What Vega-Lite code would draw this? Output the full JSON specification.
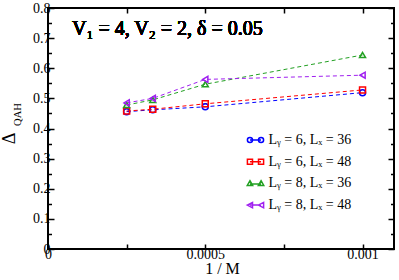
{
  "$schema": "https://vega.github.io/schema/vega-lite/v6.json",
  "width": 346,
  "height": 241,
  "autosize": {"type": "none"},
  "padding": {"left": 48, "top": 8, "right": 5, "bottom": 31},
  "background": "white",
  "config": {
    "view": {"stroke": "#000", "strokeWidth": 2},
    "font": "Liberation Serif",
    "axis": {"domain": false, "grid": false, "tickColor": "#000", "labelColor": "#000", "titleColor": "#000", "labelFont": "Liberation Serif", "titleFont": "Liberation Serif", "tickWidth": 1.5, "offset": 0, "labelFontSize": 14, "labelFontWeight": "normal"},
    "legend": {"orient": "none", "legendX": 200.5, "legendY": 125, "padding": 0, "symbolSize": 36, "symbolStrokeWidth": 1.5, "labelFont": "Liberation Serif", "labelFontSize": 14, "labelColor": "#000", "labelOffset": 6, "rowPadding": 7.7, "title": null}
  },
  "data": {"values": [
    {"s": "Lᵧ = 6, Lₓ = 36", "x": 0.00025, "y": 0.456},
    {"s": "Lᵧ = 6, Lₓ = 36", "x": 0.000333, "y": 0.462},
    {"s": "Lᵧ = 6, Lₓ = 36", "x": 0.0005, "y": 0.472},
    {"s": "Lᵧ = 6, Lₓ = 36", "x": 0.001, "y": 0.519},
    {"s": "Lᵧ = 6, Lₓ = 48", "x": 0.00025, "y": 0.458},
    {"s": "Lᵧ = 6, Lₓ = 48", "x": 0.000333, "y": 0.464},
    {"s": "Lᵧ = 6, Lₓ = 48", "x": 0.0005, "y": 0.482},
    {"s": "Lᵧ = 6, Lₓ = 48", "x": 0.001, "y": 0.528},
    {"s": "Lᵧ = 8, Lₓ = 36", "x": 0.00025, "y": 0.478},
    {"s": "Lᵧ = 8, Lₓ = 36", "x": 0.000333, "y": 0.495},
    {"s": "Lᵧ = 8, Lₓ = 36", "x": 0.0005, "y": 0.547},
    {"s": "Lᵧ = 8, Lₓ = 36", "x": 0.001, "y": 0.644},
    {"s": "Lᵧ = 8, Lₓ = 48", "x": 0.00025, "y": 0.485},
    {"s": "Lᵧ = 8, Lₓ = 48", "x": 0.000333, "y": 0.500},
    {"s": "Lᵧ = 8, Lₓ = 48", "x": 0.0005, "y": 0.563},
    {"s": "Lᵧ = 8, Lₓ = 48", "x": 0.001, "y": 0.577}
  ]},
  "layer": [
    {
      "mark": {"type": "line", "strokeDash": [4, 3], "strokeWidth": 1},
      "encoding": {
        "x": {"field": "x", "type": "quantitative", "scale": {"domain": [0, 0.0011], "nice": false, "zero": false},
          "axis": {"orient": "bottom", "values": [0, 0.00025, 0.0005, 0.00075, 0.001], "tickSize": -5, "labelPadding": 3,
            "labelColor": "#000", "labelFontSize": 14,
            "labelExpr": "datum.value == 0 ? '0' : (abs(datum.value - 0.0005) < 1e-9 ? '0.0005' : (abs(datum.value - 0.001) < 1e-9 ? '0.001' : ''))",
            "labelFlush": false, "labelOverlap": false,
            "title": "1 / M", "titleFontSize": 16, "titleFontWeight": "normal", "titleX": 174, "titleY": 24, "titleAlign": "center", "titleBaseline": "alphabetic", "titleAngle": 0}},
        "y": {"field": "y", "type": "quantitative", "scale": {"domain": [0, 0.8], "nice": false, "zero": false},
          "axis": {"orient": "left", "values": [0, 0.1, 0.2, 0.3, 0.4, 0.5, 0.6, 0.7, 0.8], "format": "~g", "tickSize": -6, "labelPadding": 4,
            "labelColor": "#000", "labelFontSize": 14,
            "labelFlush": false, "labelOverlap": false,
            "title": "Δ", "titleFontSize": 18, "titleFontWeight": "normal", "titleX": -34, "titleY": 130, "titleAngle": 270, "titleAlign": "center", "titleBaseline": "alphabetic"}},
        "color": {"field": "s", "type": "nominal", "legend": null,
          "scale": {"domain": ["Lᵧ = 6, Lₓ = 36", "Lᵧ = 6, Lₓ = 48", "Lᵧ = 8, Lₓ = 36", "Lᵧ = 8, Lₓ = 48"], "range": ["#0000ff", "#ff0000", "#22a022", "#a020f0"]}}
      }
    },
    {
      "mark": {"type": "point", "filled": false, "size": 36, "strokeWidth": 1.5, "opacity": 1},
      "encoding": {
        "x": {"field": "x", "type": "quantitative", "axis": {"orient": "top", "values": [0, 0.00025, 0.0005, 0.00075, 0.001], "tickSize": -5, "labels": false, "title": null}},
        "y": {"field": "y", "type": "quantitative", "axis": {"orient": "right", "values": [0, 0.1, 0.2, 0.3, 0.4, 0.5, 0.6, 0.7, 0.8], "tickSize": -6, "labels": false, "title": null}},
        "color": {"field": "s", "type": "nominal", "legend": null},
        "shape": {"field": "s", "type": "nominal", "legend": null,
          "scale": {"domain": ["Lᵧ = 6, Lₓ = 36", "Lᵧ = 6, Lₓ = 48", "Lᵧ = 8, Lₓ = 36", "Lᵧ = 8, Lₓ = 48"], "range": ["circle", "square", "triangle-up", "triangle-left"]}}
      }
    },
    {
      "mark": {"type": "point", "filled": false, "size": 36, "strokeWidth": 1.5, "opacity": 0},
      "encoding": {
        "x": {"field": "x", "type": "quantitative", "axis": null},
        "y": {"field": "y", "type": "quantitative", "axis": {"orient": "left", "values": [0.05, 0.15, 0.25, 0.35, 0.45, 0.55, 0.65, 0.75], "tickSize": -3.5, "labels": false,
          "title": "QAH", "titleFontSize": 10.5, "titleFontWeight": "normal", "titleX": -27.5, "titleY": 106, "titleAngle": 270, "titleAlign": "center", "titleBaseline": "alphabetic"}},
        "color": {"field": "s", "type": "nominal", "legend": null},
        "shape": {"field": "s", "type": "nominal",
          "scale": {"domain": ["Lᵧ = 6, Lₓ = 36", "Lᵧ = 6, Lₓ = 48", "Lᵧ = 8, Lₓ = 36", "Lᵧ = 8, Lₓ = 48"],
            "range": [
              "M-1,0 C-1,0.469 -1.381,0.85 -1.85,0.85 C-2.319,0.85 -2.7,0.469 -2.7,0 C-2.7,-0.469 -2.319,-0.85 -1.85,-0.85 C-1.381,-0.85 -1,-0.469 -1,0 Z M2.7,0 C2.7,0.469 2.319,0.85 1.85,0.85 C1.381,0.85 1,0.469 1,0 C1,-0.469 1.381,-0.85 1.85,-0.85 C2.319,-0.85 2.7,-0.469 2.7,0 Z M-1.85,0 L1.85,0",
              "M-2.7,-0.85 L-1,-0.85 L-1,0.85 L-2.7,0.85 Z M1,-0.85 L2.7,-0.85 L2.7,0.85 L1,0.85 Z M-1.85,0 L1.85,0",
              "M-1.85,-0.9 L-0.95,0.7 L-2.75,0.7 Z M1.85,-0.9 L2.75,0.7 L0.95,0.7 Z M-1.85,0.2 L1.85,0.2",
              "M-2.75,0 L-1,-0.9 L-1,0.9 Z M0.95,0 L2.7,-0.9 L2.7,0.9 Z M-1.85,0 L1.85,0"
            ]},
          "legend": {"symbolOpacity": 1, "symbolFillColor": "transparent", "symbolStrokeColor": {"expr": "scale('color', datum.value)"}}}
      }
    },
    {
      "mark": {"type": "point", "opacity": 0},
      "encoding": {
        "x": {"field": "x", "type": "quantitative", "axis": null},
        "y": {"field": "y", "type": "quantitative", "axis": {"orient": "right", "values": [0.05, 0.15, 0.25, 0.35, 0.45, 0.55, 0.65, 0.75], "tickSize": -3.5, "labels": false, "title": null}}
      }
    },
    {
      "mark": {"type": "text", "align": "left", "baseline": "alphabetic", "fontSize": 20, "font": "Liberation Serif", "fontWeight": "normal", "fill": "#000", "strokeWidth": 0},
      "encoding": {
        "x": {"datum": 0.0000763, "type": "quantitative", "axis": null},
        "y": {"datum": 0.711, "type": "quantitative", "axis": null},
        "text": {"value": "V₁ = 4, V₂ = 2, δ = 0.05"}
      }
    }
  ],
  "resolve": {"scale": {"shape": "independent"}, "axis": {"x": "independent", "y": "independent"}}
}
